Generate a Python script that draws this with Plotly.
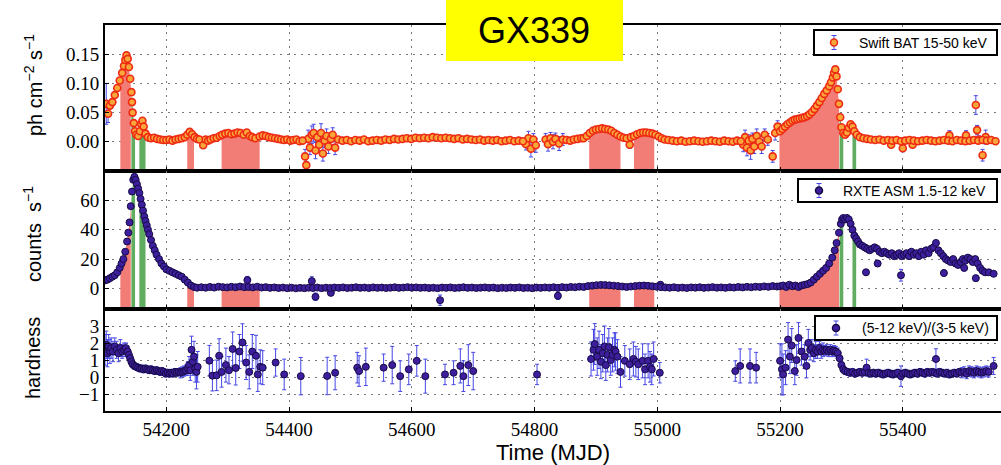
import numpy as np
import plotly.graph_objects as go
from plotly.subplots import make_subplots

# ---------------------------------------------------------------- data
# Swift BAT 15-50 keV rate (ph cm^-2 s^-1): (MJD, rate)
bat_points = [
    (54108, 0.062), (54112, 0.068), (54116, 0.080), (54120, 0.092), (54124, 0.105),
    (54128, 0.118), (54131, 0.130), (54133, 0.140), (54135, 0.148), (54137, 0.142),
    (54139, 0.128), (54141, 0.108), (54143, 0.085), (54144, 0.068), (54145, 0.050),
    (54147, 0.032), (54149, 0.018), (54151, 0.012), (54154, 0.010), (54157, 0.018),
    (54159, 0.030), (54161, 0.036), (54163, 0.026), (54166, 0.014), (54170, 0.008),
    (54175, 0.006), (54180, 0.007), (54185, 0.005), (54190, 0.004), (54195, 0.003),
    (54200, 0.003), (54205, 0.004), (54210, 0.002), (54215, 0.004), (54220, 0.005),
    (54225, 0.006), (54230, 0.008), (54234, 0.012), (54238, 0.017), (54242, 0.013),
    (54246, 0.008), (54250, 0.005), (54254, 0.004), (54260, -0.006), (54264, 0.004),
    (54268, 0.002), (54272, 0.004), (54277, 0.006), (54282, 0.007), (54287, 0.010),
    (54291, 0.012), (54296, 0.014), (54301, 0.015), (54306, 0.013), (54311, 0.014),
    (54316, 0.016), (54321, 0.015), (54326, 0.012), (54331, 0.016), (54336, 0.010),
    (54340, 0.008), (54345, 0.006), (54352, 0.009), (54357, 0.011), (54362, 0.010),
    (54367, 0.008), (54372, 0.007), (54377, 0.006), (54382, 0.005), (54387, 0.004),
    (54392, 0.003), (54397, 0.004), (54402, 0.002), (54407, 0.003), (54412, 0.004),
    (54417, 0.001), (54422, 0.002),
    (54480, 0.004), (54487, 0.002), (54494, 0.003), (54501, 0.001), (54508, 0.003),
    (54515, 0.002), (54522, 0.004), (54529, 0.001), (54536, 0.002), (54543, 0.003),
    (54550, 0.002), (54557, 0.004), (54564, 0.003), (54571, 0.005), (54578, 0.004),
    (54585, 0.005), (54592, 0.006), (54599, 0.005), (54606, 0.007), (54613, 0.006),
    (54620, 0.007), (54627, 0.006), (54634, 0.008), (54641, 0.007), (54648, 0.006),
    (54655, 0.007), (54662, 0.006), (54669, 0.005), (54676, 0.006), (54683, 0.004),
    (54690, 0.005), (54697, 0.004), (54704, 0.003), (54711, 0.004), (54718, 0.002),
    (54725, 0.003), (54732, 0.002), (54739, 0.003), (54746, 0.001), (54753, 0.002),
    (54760, 0.003), (54767, 0.001), (54774, 0.002), (54781, 0.001),
    (54852, 0.003), (54858, 0.002), (54864, 0.004), (54870, 0.005), (54876, 0.006),
    (54880, 0.006), (54885, 0.010), (54890, 0.015), (54895, 0.019), (54900, 0.021),
    (54905, 0.022), (54910, 0.023), (54915, 0.022), (54920, 0.021), (54925, 0.019),
    (54930, 0.015), (54935, 0.012), (54940, 0.009), (54945, 0.007), (54950, 0.006),
    (54957, 0.008), (54962, 0.010), (54967, 0.013), (54972, 0.015), (54977, 0.016),
    (54982, 0.016), (54987, 0.015), (54992, 0.014), (54997, 0.012), (55002, 0.009),
    (55007, 0.006), (55012, 0.004), (55018, 0.003), (55025, 0.002), (55032, 0.001),
    (55039, 0.002), (55046, 0.000), (55053, 0.001), (55060, 0.002), (55067, 0.001),
    (55074, 0.000), (55081, 0.001), (55088, 0.002), (55095, 0.001), (55102, 0.000),
    (55109, 0.002), (55116, 0.001), (55123, 0.000), (55130, 0.002), (55136, 0.001),
    (55200, 0.018), (55204, 0.022), (55208, 0.026), (55212, 0.030), (55216, 0.033),
    (55220, 0.036), (55224, 0.038), (55228, 0.039), (55232, 0.040), (55236, 0.041),
    (55240, 0.042), (55244, 0.044), (55248, 0.047), (55252, 0.051), (55256, 0.056),
    (55260, 0.062), (55264, 0.068), (55268, 0.075), (55272, 0.082), (55276, 0.088),
    (55280, 0.095), (55283, 0.102), (55286, 0.110), (55288, 0.118), (55290, 0.124),
    (55292, 0.112), (55294, 0.090), (55296, 0.065), (55298, 0.042), (55300, 0.025),
    (55303, 0.015), (55306, 0.012), (55309, 0.016), (55312, 0.024), (55315, 0.030),
    (55318, 0.026), (55321, 0.018), (55325, 0.012), (55330, 0.008), (55336, 0.006),
    (55342, 0.005), (55348, 0.004), (55355, 0.003), (55362, 0.004), (55369, 0.002),
    (55376, 0.003), (55383, 0.002), (55390, 0.003), (55397, 0.001), (55404, 0.002),
    (55411, 0.003), (55418, 0.002), (55425, 0.001), (55432, 0.002), (55439, 0.003),
    (55446, 0.002), (55453, 0.001), (55460, 0.002), (55467, 0.003), (55474, 0.002),
    (55481, 0.001), (55488, 0.003), (55495, 0.002), (55502, 0.001), (55509, 0.002),
    (55516, 0.003), (55523, 0.002), (55530, 0.003), (55537, 0.002), (55544, 0.003),
    (55551, 0.001),
]

# BAT points whose error bars stand out: (MJD, rate, error)
bat_noisy = [
    (54102, 0.065, 0.035), (54105, 0.048, 0.015),
    (54426, -0.025, 0.012), (54428, -0.040, 0.012), (54431, 0.005, 0.015),
    (54434, -0.010, 0.012), (54437, 0.012, 0.015), (54440, 0.015, 0.015),
    (54443, -0.015, 0.014), (54446, 0.008, 0.010), (54449, -0.005, 0.012),
    (54452, 0.015, 0.016), (54455, -0.020, 0.013), (54458, 0.002, 0.012),
    (54461, 0.010, 0.012), (54464, -0.008, 0.012), (54468, 0.005, 0.010),
    (54471, 0.012, 0.012), (54475, -0.010, 0.012),
    (54786, -0.004, 0.010), (54790, 0.006, 0.012), (54794, -0.012, 0.014),
    (54798, 0.004, 0.010), (54802, -0.006, 0.012), (54818, 0.004, 0.010),
    (54822, -0.004, 0.012), (54826, 0.006, 0.010), (54830, 0.000, 0.012),
    (54834, 0.005, 0.010), (54840, -0.003, 0.012), (54846, 0.004, 0.010),
    (54955, -0.005, 0.006),
    (55140, -0.005, 0.012), (55143, 0.008, 0.012), (55146, -0.010, 0.014),
    (55149, 0.002, 0.010), (55152, -0.015, 0.015), (55155, 0.005, 0.010),
    (55158, -0.008, 0.012), (55162, 0.010, 0.012), (55166, 0.000, 0.010),
    (55170, -0.008, 0.012), (55175, 0.012, 0.010), (55180, 0.004, 0.010),
    (55188, -0.025, 0.010), (55192, 0.015, 0.012), (55196, 0.026, 0.010),
    (55381, -0.005, 0.005), (55400, -0.011, 0.006), (55416, -0.005, 0.005),
    (55476, 0.011, 0.008), (55503, 0.011, 0.008), (55519, 0.063, 0.016),
    (55521, 0.020, 0.008), (55524, 0.004, 0.006), (55530, -0.023, 0.010),
    (55535, 0.008, 0.012),
]

# RXTE ASM 1.5-12 keV count rate (counts s^-1): (MJD, rate)
asm_points = [
    (54100, 5.5), (54104, 6), (54108, 7), (54112, 8), (54116, 9),
    (54120, 11), (54124, 14), (54127, 17), (54130, 20), (54133, 25),
    (54136, 32), (54138, 38), (54140, 45), (54142, 56), (54144, 66),
    (54146, 74), (54148, 76), (54150, 74), (54152, 71), (54154, 68),
    (54156, 65), (54158, 61), (54160, 57), (54162, 53), (54164, 49),
    (54166, 46), (54168, 43), (54170, 40), (54172, 37), (54175, 33),
    (54178, 29), (54181, 26), (54184, 23), (54188, 20), (54192, 17),
    (54196, 15), (54200, 13), (54205, 12), (54210, 11), (54215, 10),
    (54220, 9), (54225, 8), (54230, 6), (54235, 4), (54240, 2),
    (54245, 1), (54250, 0.5),
    (54257, 0.8), (54264, 0.5), (54271, 1.0), (54278, 0.6), (54285, 1.2),
    (54292, 0.9), (54299, 0.7), (54306, 1.1), (54313, 0.8), (54320, 1.3),
    (54327, 0.9), (54334, 1.0), (54341, 0.7), (54348, 1.2), (54355, 0.6),
    (54362, 0.9), (54369, 0.4), (54376, 0.7), (54383, 0.3), (54390, 0.6),
    (54397, 0.2), (54404, 0.5), (54411, 0.1), (54418, 0.4), (54425, 0.2),
    (54432, 0.5), (54439, 0.3), (54446, 0.6), (54453, 0.2), (54460, 0.5),
    (54467, 0.3), (54474, 0.6), (54481, 0.4), (54488, 0.7), (54495, 0.3),
    (54502, 0.5), (54509, 0.8), (54516, 0.4), (54523, 0.6), (54530, 0.3),
    (54537, 0.7), (54544, 0.4), (54551, 0.6), (54558, 0.3), (54565, 0.5),
    (54572, 0.8), (54579, 0.4), (54586, 0.6), (54593, 0.9), (54600, 0.5),
    (54607, 0.7), (54614, 0.4), (54621, 0.6), (54628, 0.3), (54635, 0.5),
    (54642, 0.2), (54649, 0.6), (54656, 0.4), (54663, 0.7), (54670, 0.3),
    (54677, 0.5), (54684, 0.8), (54691, 0.4), (54698, 0.6), (54705, 0.3),
    (54712, 0.5), (54719, 0.7), (54726, 0.4), (54733, 0.6), (54740, 0.2),
    (54747, 0.5), (54754, 0.3), (54761, 0.6), (54768, 0.4), (54775, 0.7),
    (54782, 0.3), (54789, 0.5), (54796, 0.2), (54803, 0.6), (54810, 0.4),
    (54817, 0.7), (54824, 0.5), (54831, 0.8), (54838, 0.4), (54845, 0.9),
    (54852, 0.6), (54859, 1.0), (54866, 0.8), (54873, 1.2), (54880, 1.0),
    (54887, 1.6), (54894, 1.9), (54901, 2.2), (54908, 2.4), (54915, 2.3),
    (54922, 2.1), (54929, 1.9), (54936, 1.6), (54943, 1.3), (54950, 1.0),
    (54957, 1.3), (54964, 1.6), (54971, 1.9), (54978, 2.0), (54985, 1.8),
    (54992, 1.5), (54999, 1.2), (55006, 0.9), (55013, 0.7), (55020, 0.5),
    (55027, 0.8), (55034, 0.4), (55041, 0.6), (55048, 0.3), (55055, 0.7),
    (55062, 0.5), (55069, 0.8), (55076, 0.4), (55083, 0.6), (55090, 0.9),
    (55097, 0.5), (55104, 0.7), (55111, 0.4), (55118, 0.8), (55125, 0.6),
    (55132, 1.0), (55139, 0.7), (55146, 1.1), (55153, 0.8), (55160, 1.2),
    (55167, 1.0), (55174, 1.4), (55181, 1.1), (55188, 1.6), (55195, 1.3),
    (55200, 1.5), (55205, 2.0), (55210, 1.0), (55215, 2.5), (55220, 1.5),
    (55225, 2.0), (55230, 1.0), (55235, 2.0), (55240, 2.5), (55245, 3.0),
    (55250, 4), (55255, 6), (55260, 8), (55265, 10), (55270, 12),
    (55275, 14), (55280, 17), (55285, 21), (55289, 26), (55292, 31),
    (55296, 38), (55299, 44), (55301, 47), (55303, 48), (55306, 47),
    (55309, 48), (55312, 47), (55315, 44), (55318, 40), (55321, 36),
    (55324, 34), (55327, 32), (55330, 30), (55334, 29), (55338, 28),
    (55342, 27), (55346, 26), (55350, 27), (55354, 28), (55358, 27),
    (55362, 25), (55366, 24), (55370, 25), (55374, 24), (55378, 23),
    (55382, 24), (55386, 22), (55390, 23), (55394, 24), (55398, 22),
    (55402, 23), (55406, 24), (55410, 22), (55414, 25), (55418, 23),
    (55422, 24), (55426, 22), (55430, 25), (55434, 23), (55438, 26),
    (55442, 24), (55446, 27), (55450, 28), (55454, 31), (55458, 26),
    (55462, 24), (55466, 22), (55470, 20), (55474, 19), (55478, 18),
    (55482, 20), (55486, 17), (55490, 16), (55494, 18), (55498, 20),
    (55502, 19), (55506, 21), (55510, 20), (55514, 18), (55518, 20),
    (55522, 17), (55526, 14), (55530, 12), (55534, 11), (55540, 11),
    (55548, 10),
]

# ASM points with visible error bars: (MJD, rate, error)
asm_noisy = [
    (54332, 5.7, 2.5), (54437, 5.0, 3.0), (54443, -5.7, 2.5), (54468, -3.0, 2.0),
    (54646, -8.0, 3.5), (54838, -5.0, 2.5), (55005, 2.5, 2.0), (55340, 11.0, 2.0),
    (55359, 17.0, 2.0), (55397, 9.0, 4.0), (55467, 10.5, 2.0), (55500, 14.0, 2.0),
    (55519, 7.0, 2.0),
]

# ASM hardness ratio (5-12 keV)/(3-5 keV): (MJD, ratio, error)
hardness_points = [
    (54100, 1.6, 0.9), (54102, 1.9, 0.8), (54104, 1.4, 0.8), (54106, 1.8, 0.7),
    (54108, 1.5, 0.7), (54110, 1.7, 0.6), (54113, 1.5, 0.6), (54116, 1.8, 0.5),
    (54119, 1.6, 0.5), (54122, 1.4, 0.5), (54125, 1.7, 0.5), (54128, 1.5, 0.4),
    (54131, 1.6, 0.4), (54134, 1.7, 0.3), (54137, 1.5, 0.3), (54139, 1.3, 0.3),
    (54141, 1.1, 0.2), (54143, 0.9, 0.2), (54145, 0.75, 0.2), (54148, 0.65, 0.2),
    (54151, 0.6, 0.2), (54154, 0.55, 0.2), (54157, 0.5, 0.2), (54160, 0.5, 0.2),
    (54163, 0.45, 0.2), (54166, 0.5, 0.2), (54169, 0.45, 0.2), (54172, 0.4, 0.2),
    (54175, 0.45, 0.2), (54178, 0.4, 0.2), (54181, 0.35, 0.2), (54184, 0.4, 0.2),
    (54187, 0.35, 0.2), (54190, 0.3, 0.2), (54193, 0.35, 0.2), (54196, 0.3, 0.2),
    (54199, 0.2, 0.2), (54202, 0.25, 0.2), (54205, 0.2, 0.2), (54208, 0.25, 0.2),
    (54211, 0.2, 0.2), (54214, 0.3, 0.2), (54217, 0.25, 0.2), (54220, 0.3, 0.2),
    (54223, 0.25, 0.3), (54226, 0.3, 0.3), (54229, 0.35, 0.3), (54232, 0.4, 0.3),
    (54235, 0.5, 0.4), (54237, 0.7, 0.5), (54239, 0.4, 0.6), (54241, 1.6, 0.8),
    (54243, 0.9, 0.8), (54245, 1.2, 0.9), (54247, 0.5, 0.8), (54249, 0.3, 1.0),
    (54251, 0.6, 0.9),
    (54270, 0.96, 0.9), (54275, 0.08, 0.9), (54282, 0.1, 0.9), (54286, 1.25, 1.0),
    (54290, 0.3, 0.9), (54297, 0.7, 1.0), (54302, 0.4, 0.8), (54308, 1.65, 1.0),
    (54313, 0.53, 1.0), (54319, 1.5, 1.0), (54324, 2.03, 1.1), (54330, 0.85, 1.0),
    (54335, 0.3, 1.0), (54340, 1.5, 1.0), (54346, 1.25, 1.2), (54349, 0.15, 1.0),
    (54353, 0.6, 1.0), (54357, 0.55, 1.0), (54378, 0.85, 0.8), (54392, 0.15, 0.9),
    (54419, 0.05, 1.1), (54462, 0.06, 1.1), (54475, 0.25, 1.0), (54511, 0.55, 0.9),
    (54514, 0.35, 0.9), (54525, 0.6, 1.1), (54554, 0.55, 0.8), (54568, 0.7, 1.1),
    (54581, 0.05, 0.9), (54595, 0.45, 0.9), (54608, 0.95, 0.9), (54622, 0.05, 1.0),
    (54654, 0.15, 0.6), (54668, 0.25, 0.7), (54679, 0.65, 1.0), (54684, 0.05, 0.9),
    (54692, 0.7, 1.2), (54700, 0.35, 1.1),
    (54804, 0.15, 0.6),
    (54892, 1.06, 1.0), (54896, 1.6, 1.2), (54898, 1.94, 1.2), (54902, 1.2, 1.1),
    (54905, 1.6, 1.1), (54908, 0.9, 1.0), (54911, 1.4, 1.1), (54914, 1.8, 1.2),
    (54916, 0.7, 0.9), (54919, 1.3, 1.0), (54921, 1.75, 1.1), (54924, 1.0, 0.9),
    (54927, 1.3, 1.0), (54930, 1.6, 1.0), (54932, 1.5, 1.1), (54935, 1.2, 1.0),
    (54940, 0.3, 0.9), (54947, 0.95, 0.9), (54955, 0.75, 0.9), (54961, 1.06, 1.0),
    (54965, 0.9, 0.9), (54969, 0.75, 0.9), (54976, 0.95, 1.0), (54980, 0.45, 0.9),
    (54985, 0.95, 1.0), (54988, 0.6, 0.9), (54991, 0.45, 0.9), (54994, 1.06, 1.0),
    (55004, 0.25, 0.6),
    (55127, 0.35, 0.6), (55135, 0.65, 1.0), (55151, 0.65, 1.0), (55161, 0.55, 0.9),
    (55200, 0.95, 1.0), (55203, 0.45, 1.5), (55205, 0.15, 1.2), (55209, 0.55, 1.0),
    (55213, 2.2, 1.0), (55216, 1.2, 1.0), (55219, 1.85, 1.0), (55224, 0.35, 0.8),
    (55227, 1.0, 0.9), (55230, 2.3, 0.9), (55235, 1.5, 0.8), (55240, 1.2, 0.7),
    (55243, 0.65, 0.7), (55246, 2.0, 0.8), (55249, 1.6, 0.6), (55252, 1.7, 0.5),
    (55255, 1.4, 0.5), (55258, 1.6, 0.5), (55261, 1.5, 0.4), (55264, 1.7, 0.4),
    (55267, 1.5, 0.4), (55270, 1.6, 0.4), (55273, 1.55, 0.3), (55276, 1.6, 0.3),
    (55279, 1.5, 0.3), (55282, 1.6, 0.3), (55285, 1.5, 0.3), (55288, 1.55, 0.3),
    (55291, 1.5, 0.3), (55294, 1.4, 0.3), (55297, 1.1, 0.3), (55300, 0.7, 0.2),
    (55303, 0.45, 0.2), (55306, 0.35, 0.2),
    (55310, 0.3, 0.2), (55314, 0.25, 0.2), (55318, 0.3, 0.2), (55322, 0.2, 0.2),
    (55326, 0.25, 0.2), (55330, 0.3, 0.2), (55334, 0.25, 0.2), (55338, 0.3, 0.2),
    (55341, 0.55, 0.5), (55344, 0.25, 0.2), (55348, 0.2, 0.2), (55352, 0.25, 0.2),
    (55356, 0.2, 0.2), (55360, 0.25, 0.2), (55364, 0.2, 0.2), (55368, 0.15, 0.2),
    (55372, 0.2, 0.2), (55376, 0.25, 0.2), (55380, 0.2, 0.2), (55384, 0.15, 0.2),
    (55388, 0.2, 0.2), (55392, 0.25, 0.2), (55397, 0.05, 0.6), (55400, 0.2, 0.2),
    (55404, 0.25, 0.2), (55408, 0.2, 0.2), (55412, 0.15, 0.2), (55416, 0.2, 0.2),
    (55420, 0.25, 0.2), (55424, 0.2, 0.2), (55428, 0.3, 0.2), (55432, 0.25, 0.2),
    (55436, 0.2, 0.2), (55440, 0.3, 0.2), (55444, 0.25, 0.2), (55448, 0.3, 0.2),
    (55452, 0.25, 0.2), (55454, 1.06, 0.6), (55456, 0.2, 0.2), (55460, 0.3, 0.2),
    (55464, 0.25, 0.2), (55468, 0.2, 0.2), (55472, 0.25, 0.2), (55476, 0.15, 0.2),
    (55480, 0.2, 0.2), (55484, 0.25, 0.2), (55488, 0.2, 0.2), (55492, 0.3, 0.2),
    (55496, 0.25, 0.3), (55500, 0.3, 0.3), (55504, 0.2, 0.3), (55508, 0.35, 0.3),
    (55512, 0.3, 0.3), (55516, 0.25, 0.3), (55520, 0.35, 0.3), (55524, 0.3, 0.3),
    (55528, 0.25, 0.3), (55532, 0.3, 0.3), (55536, 0.35, 0.3), (55540, 0.3, 0.3),
    (55548, 0.65, 0.5),
]

# Selected time windows (MJD start, end)
red_windows = [(54125, 54142), (54234, 54245), (54290, 54352),
               (54889, 54940), (54962, 54995), (55199, 55296)]
green_windows = [(54143, 54149), (54156, 54166), (55297, 55303), (55318, 55324)]

x_ticks = [54200, 54400, 54600, 54800, 55000, 55200, 55400]
bat_ticks = [0.0, 0.05, 0.10, 0.15]
asm_ticks = [0, 20, 40, 60]
hr_ticks = [-1, 0, 1, 2, 3]

# ---------------------------------------------------------------- styling
BAT_FILL, BAT_EDGE = "#F9A73A", "#EE2A14"
ASM_FILL, ASM_EDGE = "#3D1F9E", "#170A45"
ERR_BLUE = "#4646E6"
RED_BAND, GREEN_BAND = "rgb(242,124,118)", "rgb(96,172,96)"
SERIF = "Liberation Serif"
SANS = "Liberation Sans"

fig = make_subplots(rows=3, cols=1, shared_xaxes=True, vertical_spacing=0,
                    row_heights=[146, 138, 102])


def unpack(rows):
    return [np.array(c, dtype=float) for c in zip(*rows)]


bat_t, bat_v = unpack(bat_points)
batn_t, batn_v, batn_e = unpack(bat_noisy)
asm_t, asm_v = unpack(asm_points)
asmn_t, asmn_v, asmn_e = unpack(asm_noisy)
hr_t, hr_v, hr_e = unpack(hardness_points)


def window_polygon(t, v, lo, hi, base):
    order = np.argsort(t)
    t, v = t[order], v[order]
    inside = (t > lo) & (t < hi)
    px = [lo] + list(t[inside]) + [hi, hi, lo]
    py = ([np.interp(lo, t, v)] + list(v[inside]) +
          [np.interp(hi, t, v), base, base])
    return px, py


panels = [
    (1, np.concatenate([bat_t, batn_t]), np.concatenate([bat_v, batn_v]), -0.05),
    (2, np.concatenate([asm_t, asmn_t]), np.concatenate([asm_v, asmn_v]), -14),
]
for row, t, v, base in panels:
    for windows, colour in ((red_windows, RED_BAND), (green_windows, GREEN_BAND)):
        for lo, hi in windows:
            px, py = window_polygon(t, v, lo, hi, base)
            fig.add_trace(go.Scatter(x=px, y=py, mode="lines", fill="toself",
                                     fillcolor=colour, line=dict(width=0),
                                     hoverinfo="skip", showlegend=False),
                          row=row, col=1)


def marker(fill, edge, width=1.0, size=7):
    return dict(size=size, color=fill, line=dict(color=edge, width=width))


def errbar(err):
    return dict(type="data", array=err, visible=True, color=ERR_BLUE,
                thickness=1, width=2)


# Swift BAT
fig.add_trace(go.Scatter(x=batn_t, y=batn_v, mode="markers", error_y=errbar(batn_e),
                         marker=marker(BAT_FILL, BAT_EDGE, 1.6, 7), showlegend=False),
              row=1, col=1)
fig.add_trace(go.Scatter(x=bat_t, y=bat_v, mode="markers",
                         marker=marker(BAT_FILL, BAT_EDGE, 1.6, 7), showlegend=False),
              row=1, col=1)
# RXTE ASM
fig.add_trace(go.Scatter(x=asmn_t, y=asmn_v, mode="markers", error_y=errbar(asmn_e),
                         marker=marker(ASM_FILL, ASM_EDGE), showlegend=False),
              row=2, col=1)
fig.add_trace(go.Scatter(x=asm_t, y=asm_v, mode="markers",
                         marker=marker(ASM_FILL, ASM_EDGE), showlegend=False),
              row=2, col=1)
# hardness ratio
fig.add_trace(go.Scatter(x=hr_t, y=hr_v, mode="markers", error_y=errbar(hr_e),
                         marker=marker(ASM_FILL, ASM_EDGE), showlegend=False),
              row=3, col=1)

axis_style = dict(showline=True, linecolor="black", linewidth=2,
                  showgrid=True, gridcolor="#7a7a7a", griddash="2px,5px", gridwidth=1,
                  ticks="inside", ticklen=4, tickcolor="black", zeroline=False,
                  tickfont=dict(family=SERIF, size=19, color="black"))

for r in (1, 2, 3):
    fig.update_xaxes(axis_style, range=[54100, 55560], tickvals=x_ticks,
                     tickformat="d", mirror=True, row=r, col=1)
fig.update_xaxes(showticklabels=True, row=3, col=1)
fig.update_yaxes(axis_style, range=[-0.05, 0.20], tickvals=bat_ticks,
                 tickformat=".2f", row=1, col=1)
fig.update_yaxes(axis_style, range=[-14, 80], tickvals=asm_ticks, row=2, col=1)
fig.update_yaxes(axis_style, range=[-2, 4], tickvals=hr_ticks, row=3, col=1)

# ---------------------------------------------------------------- page layout
W, H = 1001, 465
L, T, B = 105, 25, 54
plot_w, plot_h = W - L, H - T - B


def px_x(x):
    return (x - L) / plot_w


def px_y(y):
    return (H - B - y) / plot_h


def label(text, x, y, size, angle=0, xanchor="center"):
    return dict(text=text, xref="paper", yref="paper", x=px_x(x), y=px_y(y),
                xanchor=xanchor, yanchor="middle", textangle=angle, showarrow=False,
                font=dict(family=SANS, size=size, color="black"))


shapes = [
    dict(type="rect", xref="paper", yref="paper", layer="above",
         x0=px_x(446), x1=px_x(623), y0=px_y(61), y1=px_y(0),
         fillcolor="#FFFF00", line=dict(width=0)),
]
annotations = [
    label("GX339", 534, 30, 36),
    label("ph cm<sup>−2</sup> s<sup>−1</sup>", 33, 85, 20, -90),
    label("counts  s<sup>−1</sup>", 33, 234, 20, -90),
    label("hardness", 33, 358, 20, -90),
    label("Time (MJD)", 553, 452, 22),
]

# hand-drawn legend boxes: (box x0, x1, y0, y1, symbol x, label right edge, label, fill, edge)
legend_boxes = [
    (814, 997, 30, 55, 834, 990, "Swift BAT 15-50 keV", BAT_FILL, BAT_EDGE),
    (798, 997, 179, 202, 819, 988, "RXTE ASM 1.5-12 keV", ASM_FILL, ASM_EDGE),
    (815, 997, 316, 340, 836, 991, "(5-12 keV)/(3-5 keV)", ASM_FILL, ASM_EDGE),
]
for x0, x1, y0, y1, sx, tx, text, fill, edge in legend_boxes:
    cy = (y0 + y1) / 2
    shapes.append(dict(type="rect", xref="paper", yref="paper", layer="above",
                       x0=px_x(x0), x1=px_x(x1), y0=px_y(y1), y1=px_y(y0),
                       fillcolor="white", line=dict(color="black", width=2)))
    shapes.append(dict(type="line", xref="paper", yref="paper", layer="above",
                       x0=px_x(sx), x1=px_x(sx), y0=px_y(cy + 7), y1=px_y(cy - 7),
                       line=dict(color=ERR_BLUE, width=1)))
    for dy in (-7, 7):
        shapes.append(dict(type="line", xref="paper", yref="paper", layer="above",
                           x0=px_x(sx - 2.5), x1=px_x(sx + 2.5),
                           y0=px_y(cy + dy), y1=px_y(cy + dy),
                           line=dict(color=ERR_BLUE, width=1)))
    shapes.append(dict(type="circle", xref="paper", yref="paper", layer="above",
                       x0=px_x(sx - 3.5), x1=px_x(sx + 3.5),
                       y0=px_y(cy + 3.5), y1=px_y(cy - 3.5),
                       fillcolor=fill, line=dict(color=edge, width=1.5)))
    annotations.append(label(text, tx, cy, 14, xanchor="right"))

fig.update_layout(width=W, height=H, margin=dict(l=L, r=0, t=T, b=B),
                  paper_bgcolor="white", plot_bgcolor="white",
                  font=dict(family=SANS, color="black"),
                  shapes=shapes, annotations=annotations, showlegend=False)

fig.write_html("out.html")
